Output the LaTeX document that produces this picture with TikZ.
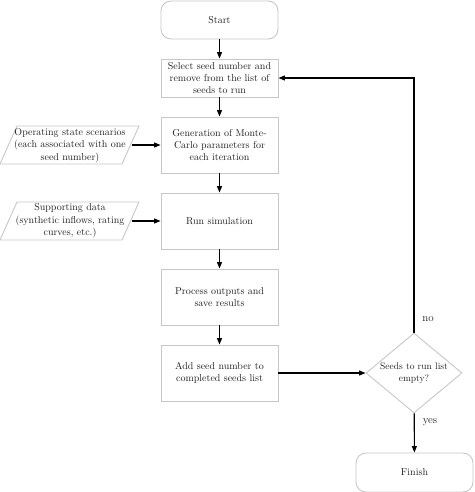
\documentclass[tikz,border=0pt]{standalone}
\usetikzlibrary{shapes.geometric,arrows.meta}
\definecolor{boxline}{gray}{0.78}
\definecolor{txt}{gray}{0.12}
\tikzset{
  procbox/.style={draw=boxline, line width=0.9pt, rectangle, minimum width=117pt, align=center,
    font=\fontsize{10}{12.3}\selectfont, text=txt, inner sep=0pt},
  termbox/.style={procbox, rounded corners=10pt},
  decbox/.style={draw=boxline, line width=0.9pt, diamond, minimum width=96pt, minimum height=80pt,
    aspect=1.2, inner sep=0pt, align=center, font=\fontsize{9.5}{12}\selectfont, text=txt},
  datatext/.style={align=center, font=\fontsize{10}{12.3}\selectfont, text=txt, inner sep=0pt},
  dataline/.style={draw=boxline, line width=0.9pt},
  conn/.style={draw=black, line width=1.1pt, -{Triangle[length=6.5pt,width=5pt]}},
  lbl/.style={font=\fontsize{11}{13}\selectfont, text=txt, inner sep=0pt}
}
\begin{document}
\begin{tikzpicture}[x=1pt,y=-1pt]
\useasboundingbox (0,0) rectangle (474,492);
% main column
\node[termbox, minimum height=38pt] (start) at (219.5,20) {Start};
\node[procbox, minimum height=38pt] (select) at (219.5,78) {Select seed number and\\remove from the list of\\seeds to run};
\node[procbox, minimum height=56pt] (gen) at (219.5,145) {Generation of Monte-\\Carlo parameters for\\each iteration};
\node[procbox, minimum height=56pt] (run) at (219.5,221) {Run simulation};
\node[procbox, minimum height=56pt] (proc) at (219.5,297) {Process outputs and\\save results};
\node[procbox, minimum height=56pt] (add) at (219.5,373) {Add seed number to\\completed seeds list};
\node[decbox] (dec) at (414,373) {Seeds to run list\\empty?};
\node[termbox, minimum height=39pt] (finish) at (414.5,472.5) {Finish};
% data inputs
\path[dataline] (0,164) -- (17,126) -- (139,126) -- (122,164) -- cycle;
\node[datatext] (op) at (70,145.5) {Operating state scenarios\\(each associated with one\\seed number)};
\coordinate (opR) at (131.5,145);
\path[dataline] (0,240) -- (17,202) -- (139,202) -- (122,240) -- cycle;
\node[datatext] (sup) at (70,221) {Supporting data\\(synthetic inflows, rating\\curves, etc.)};
\coordinate (supR) at (131.5,221);
% connectors
\draw[conn] (start) -- (select);
\draw[conn] (select) -- (gen);
\draw[conn] (gen) -- (run);
\draw[conn] (run) -- (proc);
\draw[conn] (proc) -- (add);
\draw[conn] (add) -- (dec);
\draw[conn] (dec) -- (finish);
\draw[conn] (dec.north) |- (select.east);
\draw[conn] (opR) -- (gen.west);
\draw[conn] (supR) -- (run.west);
% labels
\node[lbl] (no) at (428,319) {no};
\node[lbl] (yes) at (430,422) {yes};
\end{tikzpicture}
\end{document}
